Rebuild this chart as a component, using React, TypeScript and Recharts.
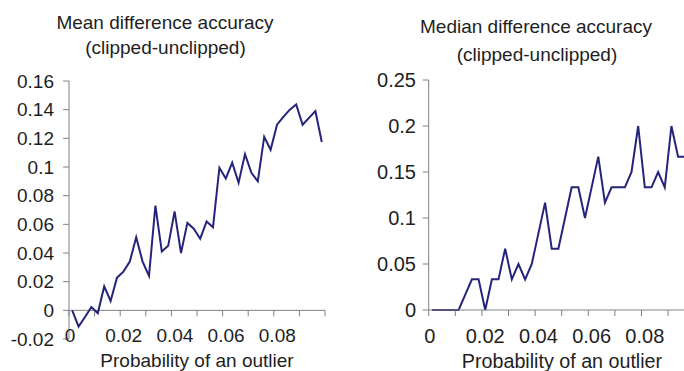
import React from 'react';
import { LineChart, Line, XAxis, YAxis, ReferenceLine } from 'recharts';

const outlierProbability = [
  0.00125, 0.00375, 0.00625, 0.00875, 0.01125, 0.01375, 0.01625, 0.01875,
  0.02125, 0.02375, 0.02625, 0.02875, 0.03125, 0.03375, 0.03625, 0.03875,
  0.04125, 0.04375, 0.04625, 0.04875, 0.05125, 0.05375, 0.05625, 0.05875,
  0.06125, 0.06375, 0.06625, 0.06875, 0.07125, 0.07375, 0.07625, 0.07875,
  0.08125, 0.08375, 0.08625, 0.08875, 0.09125, 0.09375, 0.09625, 0.09875,
];

const meanDifference = [
  0, -0.0114, -0.0046, 0.0023, -0.002, 0.0167, 0.0065, 0.0228,
  0.027, 0.034, 0.051, 0.034, 0.024, 0.073, 0.041, 0.045,
  0.069, 0.04, 0.061, 0.057, 0.05, 0.062, 0.058, 0.0995,
  0.092, 0.103, 0.089, 0.109, 0.096, 0.09, 0.121, 0.112,
  0.1295, 0.135, 0.14, 0.1437, 0.1295, 0.1343, 0.139, 0.1174,
];

const medianDifference = [
  0, 0, 0, 0, 0, 0.0167, 0.0333, 0.0333,
  0, 0.0333, 0.0333, 0.0667, 0.0333, 0.05, 0.0333, 0.05,
  0.0833, 0.1167, 0.0667, 0.0667, 0.1, 0.1333, 0.1333, 0.1,
  0.1333, 0.1667, 0.1167, 0.1333, 0.1333, 0.1333, 0.15, 0.2,
  0.1333, 0.1333, 0.15, 0.1333, 0.2, 0.1667, 0.1667, 0.1667,
];

const xTicks = [0, 0.01, 0.02, 0.03, 0.04, 0.05, 0.06, 0.07, 0.08, 0.09, 0.1];
const xTickLabels = ['0', '', '0.02', '', '0.04', '', '0.06', '', '0.08', '', ''];

const meanYTicks = [-0.02, 0, 0.02, 0.04, 0.06, 0.08, 0.1, 0.12, 0.14, 0.16];
const meanYTickLabels = ['-0.02', '0', '0.02', '0.04', '0.06', '0.08', '0.1', '0.12', '0.14', '0.16'];

const medianYTicks = [0, 0.05, 0.1, 0.15, 0.2, 0.25];
const medianYTickLabels = ['0', '0.05', '0.1', '0.15', '0.2', '0.25'];

const meanTitle = ['Mean difference accuracy', '(clipped-unclipped)'];
const medianTitle = ['Median difference accuracy', '(clipped-unclipped)'];
const xAxisTitle = 'Probability of an outlier';

const data = outlierProbability.map((p, i) => ({
  p,
  mean: meanDifference[i],
  median: medianDifference[i],
}));

const FONT = '"Liberation Sans", Arial, Helvetica, sans-serif';
const TEXT = '#1e1e1e';
const AXIS = '#808080';
const LINE = '#24247a';

const labelFor = (ticks: number[], labels: string[]) => (v: number) => {
  const idx = ticks.findIndex((t) => Math.abs(t - v) < 1e-9);
  return idx >= 0 ? labels[idx] : '';
};

const makeXTick = (dx: number, dy: number, size: number) => (props: any) => {
  const { x, y, payload } = props;
  const text = labelFor(xTicks, xTickLabels)(payload.value);
  if (!text) return <g />;
  const shift = text === '0' ? 1 : dx;
  return (
    <text
      x={x + shift}
      y={y + dy}
      textAnchor="middle"
      fontSize={size}
      fontFamily={FONT}
      fill={TEXT}
    >
      {text}
    </text>
  );
};

const leftXTick = makeXTick(3.5, 3, 19);
const rightXTick = makeXTick(3.3, 27.3, 20);

export default function App() {
  return (
    <div
      style={{
        position: 'absolute',
        left: 0,
        top: 0,
        width: 684,
        height: 371,
        overflow: 'hidden',
        background: '#ffffff',
      }}
    >
      <div style={{ position: 'absolute', left: 0, top: 0 }}>
        <LineChart
          width={342}
          height={371}
          data={data}
          margin={{ top: 81, right: 17, bottom: 2, left: 9 }}
        >
          <XAxis
            dataKey="p"
            type="number"
            domain={[0, 0.1]}
            ticks={xTicks}
            interval={0}
            axisLine={false}
            tickLine={false}
            tickSize={0}
            tickMargin={0}
            height={30}
            tick={leftXTick}
          />
          <YAxis
            type="number"
            domain={[-0.02, 0.16]}
            ticks={meanYTicks}
            interval={0}
            width={60}
            axisLine={{ stroke: AXIS }}
            tickLine={{ stroke: AXIS }}
            tickSize={6}
            tickMargin={9}
            tick={{ fontSize: 19, fill: TEXT, fontFamily: FONT }}
            tickFormatter={labelFor(meanYTicks, meanYTickLabels)}
          />
          <ReferenceLine y={0} stroke={AXIS} />
          {xTicks.map((t) => (
            <ReferenceLine
              key={t}
              segment={[
                { x: t, y: 0 },
                { x: t, y: -0.0042 },
              ]}
              stroke={AXIS}
            />
          ))}
          <Line
            type="linear"
            dataKey="mean"
            stroke={LINE}
            strokeWidth={2}
            dot={false}
            isAnimationActive={false}
          />
        </LineChart>
      </div>

      <div style={{ position: 'absolute', left: 342, top: 0 }}>
        <LineChart
          width={380}
          height={371}
          data={data}
          margin={{ top: 80, right: 27.3, bottom: 11, left: 26.7 }}
        >
          <XAxis
            dataKey="p"
            type="number"
            domain={[0, 0.1]}
            ticks={xTicks}
            interval={0}
            axisLine={{ stroke: AXIS }}
            tickLine={{ stroke: AXIS }}
            tickSize={6}
            tickMargin={0}
            height={50}
            tick={rightXTick}
          />
          <YAxis
            type="number"
            domain={[0, 0.25]}
            ticks={medianYTicks}
            interval={0}
            width={60}
            axisLine={{ stroke: AXIS }}
            tickLine={{ stroke: AXIS }}
            tickSize={6}
            tickMargin={6.7}
            tick={{ fontSize: 20, fill: TEXT, fontFamily: FONT }}
            tickFormatter={labelFor(medianYTicks, medianYTickLabels)}
          />
          <Line
            type="linear"
            dataKey="median"
            stroke={LINE}
            strokeWidth={2}
            dot={false}
            isAnimationActive={false}
          />
        </LineChart>
      </div>

      <svg
        width={684}
        height={371}
        style={{ position: 'absolute', left: 0, top: 0, pointerEvents: 'none' }}
      >
        <g fontFamily={FONT} fill={TEXT} textAnchor="middle">
          <text x={165} y={29.3} fontSize={19}>{meanTitle[0]}</text>
          <text x={165.5} y={53.5} fontSize={19}>{meanTitle[1]}</text>
          <text x={536} y={33.3} fontSize={19}>{medianTitle[0]}</text>
          <text x={537} y={60.7} fontSize={19}>{medianTitle[1]}</text>
          <text x={197} y={366.5} fontSize={19}>{xAxisTitle}</text>
          <text x={562} y={368} fontSize={19.7}>{xAxisTitle}</text>
        </g>
      </svg>
    </div>
  );
}
